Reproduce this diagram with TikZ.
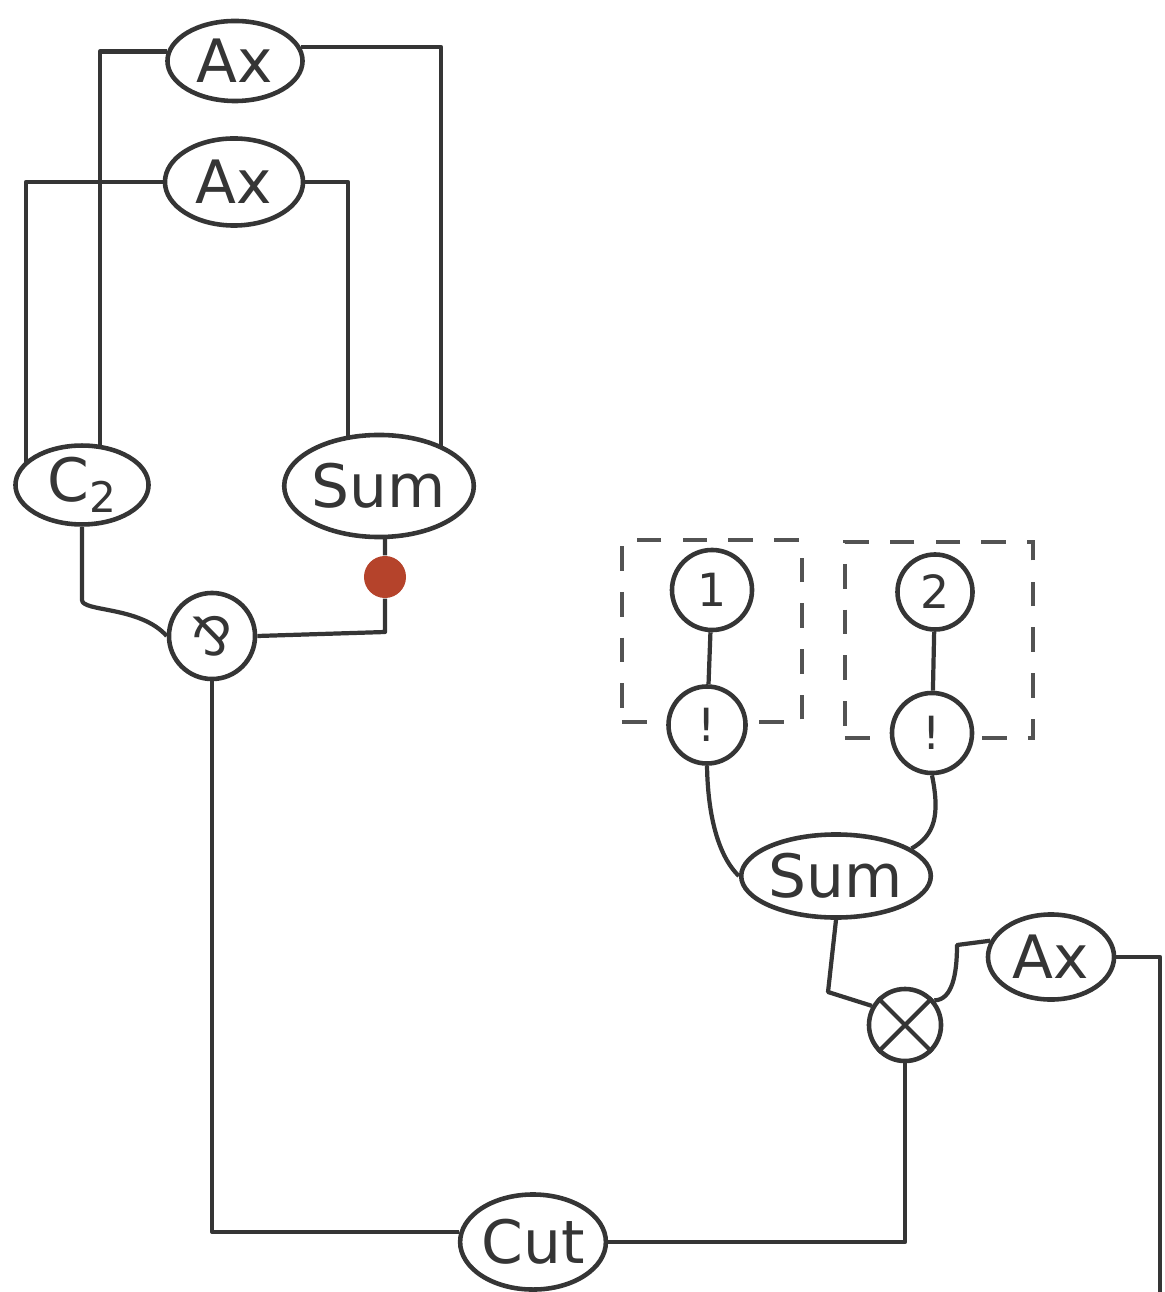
\documentclass[tikz,border=0pt]{standalone}
\usepackage{fontspec}
\setmainfont{DejaVu Sans}
\usetikzlibrary{shapes.geometric,calc}
\pgfdeclarelayer{bg}
\pgfsetlayers{bg,main}
\definecolor{ink}{HTML}{353535}
\definecolor{dotred}{HTML}{B5432B}
\begin{document}
\begin{tikzpicture}[x=0.01cm,y=-0.01cm,
  lbl/.style={font=\fontsize{17}{20}\selectfont, text=ink},
  small/.style={font=\fontsize{13}{15}\selectfont, text=ink},
  oval/.style={ellipse, draw=ink, fill=white, inner sep=0pt, line width=1.3pt, lbl},
  ring/.style={circle, draw=ink, fill=white, inner sep=0pt, line width=1.3pt},
  wire/.style={draw=ink, line width=1.2pt, line join=round},
  dashbox/.style={rectangle, draw=ink!85, line width=1.1pt, dash pattern=on 7pt off 6pt, inner sep=0pt},
  reddot/.style={circle, fill=dotred, inner sep=0pt, minimum size=0.42cm}]
\useasboundingbox (0,0) rectangle (1164,1292);

% nodes
\node[oval, minimum width=1.35cm, minimum height=0.80cm] (ax1) at (235,61) {Ax};
\node[oval, minimum width=1.38cm, minimum height=0.87cm] (ax2) at (234,182) {Ax};
\node[oval, minimum width=1.33cm, minimum height=0.75cm] (c2) at (82,485) {C\raisebox{-0.35ex}{\fontsize{12}{12}\selectfont 2}};
\node[oval, minimum width=1.62cm, minimum height=1.02cm] (sum1) at (379,486) {Sum};
\node[ring, minimum size=0.86cm, font=\fontsize{15}{18}\selectfont, text=ink] (par) at (212,636) {⅋};
\node[reddot] (rdot) at (385,577) {};

\node[dashbox, minimum width=1.80cm, minimum height=1.82cm] (box1) at (712,631) {};
\node[dashbox, minimum width=1.88cm, minimum height=1.96cm] (box2) at (939,640) {};
\node[ring, minimum size=0.80cm, small] (one) at (712,590) {1};
\node[ring, minimum size=0.77cm, small] (bang1) at (707,725) {!};
\node[ring, minimum size=0.75cm, small] (two) at (935,592) {2};
\node[ring, minimum size=0.80cm, small] (bang2) at (932,733) {!};
\node[oval, minimum width=1.83cm, minimum height=0.83cm] (sum2) at (836,876) {Sum};
\node[ring, minimum size=0.72cm] (tensor) at (905,1025) {};
\node[oval, minimum width=1.26cm, minimum height=0.85cm] (ax3) at (1051,957) {Ax};
\node[oval, minimum width=1.43cm, minimum height=0.95cm] (cut) at (533,1242) {Cut};
\coordinate (loose) at (1160,1292);

\draw[wire] (tensor.45) -- (tensor.225) (tensor.135) -- (tensor.315);

\begin{pgfonlayer}{bg}
  \draw[wire] (ax1.172) -| ($(c2.center)+(18,0)$);
  \draw[wire] (ax1.12) -| ($(sum1.center)+(62,0)$);
  \draw[wire] (ax2.west) -| ($(c2.center)+(-56,0)$);
  \draw[wire] (ax2.east) -| ($(sum1.center)+(-31,0)$);
  \draw[wire] (c2.south) -- (82,600) .. controls (82,612) and (140,606) .. (par.west);
  \draw[wire] ($(sum1.center)+(6,0)$) -- (rdot) -- (385,632) -- (par.east);
  \draw[wire] (par.south) |- (cut.172);
  \draw[wire] (cut.east) -| (tensor.south);
  \draw[wire] (one) -- (bang1);
  \draw[wire] (two) -- (bang2);
  \draw[wire] (bang1.south) .. controls (708,825) and (722,860) .. (sum2.west);
  \draw[wire] (bang2.south) .. controls (940,815) and (935,835) .. (sum2.20);
  \draw[wire] (sum2.south) -- (828,992) -- (tensor.150);
  \draw[wire] (tensor.40) .. controls (952,1000) and (957,975) .. (957,945) -- (ax3.165);
  \draw[wire] (ax3.east) -| (loose);
\end{pgfonlayer}
\end{tikzpicture}
\end{document}
